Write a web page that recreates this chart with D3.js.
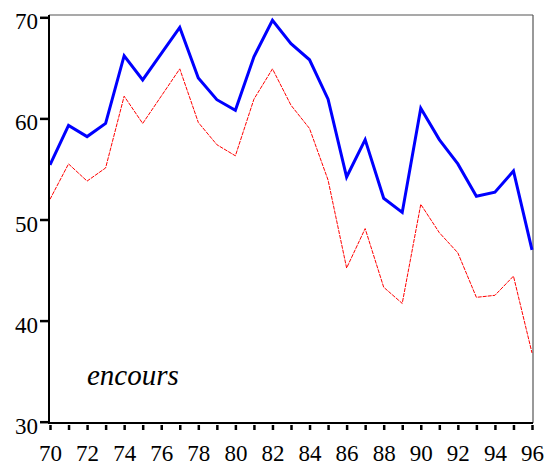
<!DOCTYPE html>
<html>
<head>
<meta charset="utf-8">
<script src="https://cdn.jsdelivr.net/npm/d3@7"></script>
<style>
  body { margin: 0; background: #fff; }
  svg { display: block; }
</style>
</head>
<body>
<script>
// years 1970..1996 (labels are two-digit)
const years = d3.range(70, 97);
const encoursHaut = [55.4, 59.3, 58.2, 59.5, 66.2, 63.8, 66.4, 69.0, 64.0, 61.85, 60.8, 66.1, 69.7,
                     67.4, 65.8, 61.9, 54.2, 57.9, 52.1, 50.7, 61.0, 57.9, 55.5, 52.3, 52.7, 54.8, 47.0];
const encoursBas = [52.0, 55.5, 53.8, 55.1, 62.2, 59.5, 62.2, 64.9, 59.6, 57.4, 56.3, 61.9, 64.9,
                    61.3, 59.0, 53.9, 45.2, 49.1, 43.3, 41.7, 51.5, 48.7, 46.7, 42.3, 42.5, 44.4, 36.8];
const yTicks = [30, 40, 50, 60, 70];
const xLabels = d3.range(70, 97, 2);

const width = 547, height = 466;
const mLeft = 49, mRight = 533, mTop = 15, mBottom = 423;
const serif = "'Liberation Serif', serif";

const x = d3.scaleLinear().domain([70, 96]).range([50, 532]);
const y = d3.scaleLinear().domain([30, 70]).range([421.7, 17.3]);

const svg = d3.select('body').append('svg')
    .attr('width', width)
    .attr('height', height);

// frame: top/right thin grey, left/bottom black
svg.append('line').attr('x1', mLeft).attr('x2', mRight).attr('y1', mTop).attr('y2', mTop)
    .attr('stroke', '#555').attr('stroke-width', 1.2);
svg.append('line').attr('x1', mRight).attr('x2', mRight).attr('y1', mTop).attr('y2', mBottom)
    .attr('stroke', '#555').attr('stroke-width', 1.2);

const line = d3.line()
    .x((d, i) => x(years[i]))
    .y(d => y(d));

svg.append('path')
    .attr('d', line(encoursBas))
    .attr('fill', 'none')
    .attr('stroke', '#ff0000')
    .attr('stroke-width', 1)
    .attr('stroke-dasharray', '4,1');

svg.append('path')
    .attr('d', line(encoursHaut))
    .attr('fill', 'none')
    .attr('stroke', '#0000ff')
    .attr('stroke-width', 3)
    .attr('stroke-linejoin', 'miter');

// y axis
const yAxis = svg.append('g')
    .attr('transform', `translate(${mLeft},0)`)
    .call(d3.axisLeft(y).tickValues(yTicks).tickSize(9).tickPadding(2).tickSizeOuter(0));
yAxis.attr('font-family', serif).attr('font-size', 23);
yAxis.select('.domain').remove();
yAxis.append('line').attr('x1', 0).attr('x2', 0).attr('y1', mTop).attr('y2', mBottom + 1)
    .attr('stroke', '#000').attr('stroke-width', 2);
yAxis.selectAll('.tick line').attr('stroke', '#000').attr('stroke-width', 2.5);
yAxis.selectAll('.tick text')
    .attr('font-family', serif)
    .attr('font-size', 23)
    .attr('dy', '0.5em')
    .attr('fill', '#000');

// x axis: a tick every year, label every second year
const xAxis = svg.append('g')
    .attr('transform', `translate(0,${mBottom})`)
    .call(d3.axisBottom(x).tickValues(years).tickSize(7).tickPadding(15).tickSizeOuter(0)
        .tickFormat(d => xLabels.includes(d) ? d : ''));
xAxis.attr('font-family', serif).attr('font-size', 23);
xAxis.select('.domain').remove();
xAxis.append('line').attr('x1', mLeft - 1).attr('x2', mRight).attr('y1', 0).attr('y2', 0)
    .attr('stroke', '#000').attr('stroke-width', 2);
xAxis.selectAll('.tick line').attr('stroke', '#000').attr('stroke-width', 2.5).attr('y1', 2);
xAxis.selectAll('.tick text')
    .attr('font-family', serif)
    .attr('font-size', 23)
    .attr('fill', '#000');

svg.append('text')
    .attr('x', 87)
    .attr('y', 385)
    .attr('font-family', serif)
    .attr('font-style', 'italic')
    .attr('font-size', 29)
    .attr('fill', '#000')
    .text('encours');
</script>
</body>
</html>
